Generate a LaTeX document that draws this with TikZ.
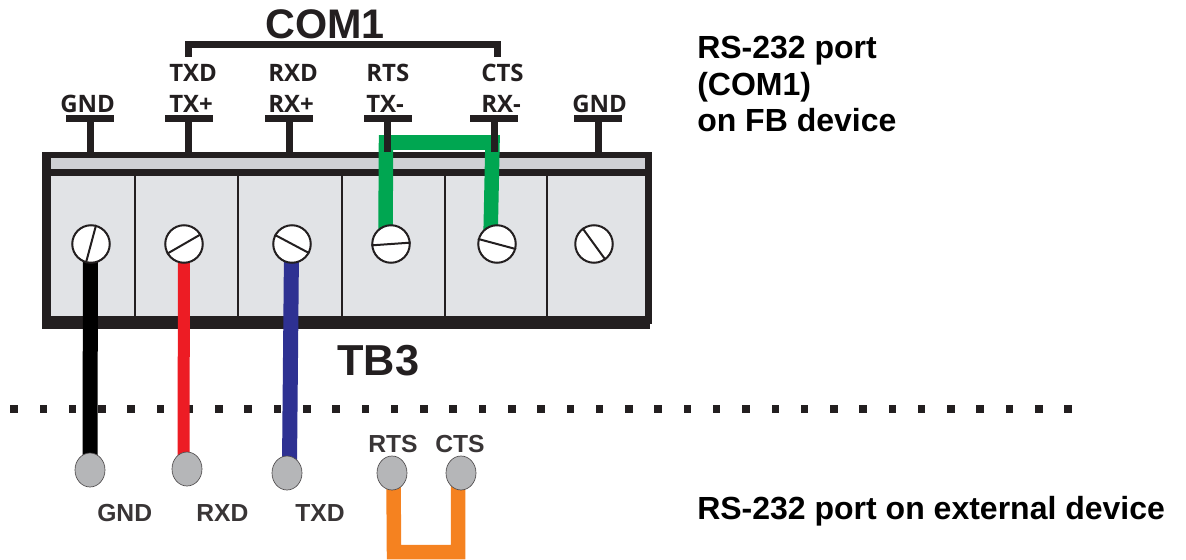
\documentclass[tikz,border=0pt]{standalone}
\usepackage{fontspec}
\setmainfont{Liberation Sans}
\newfontfamily\lblfont{Open Sans}
\usetikzlibrary{shapes.geometric}
\pgfdeclarelayer{bg}
\pgfdeclarelayer{wires}
\pgfsetlayers{bg,wires,main}
\definecolor{ink}{HTML}{231F20}
\definecolor{cellfill}{HTML}{E1E3E6}
\definecolor{stripfill}{HTML}{CFD0D4}
\definecolor{padfill}{HTML}{B5B6B8}
\definecolor{wred}{HTML}{ED1C24}
\definecolor{wblue}{HTML}{2E3192}
\definecolor{wgreen}{HTML}{00A651}
\definecolor{worange}{HTML}{F58220}
\def\px{0.75pt}
\tikzset{
  screw/.style={circle,draw=ink,fill=white,line width=1.5pt,inner sep=0pt,minimum size=37.5*\px},
  slot/.style={draw=ink,line width=1.5pt},
  pad/.style={ellipse,draw=ink!80,fill=padfill,line width=0.5pt,inner sep=0pt,minimum width=30*\px,minimum height=34*\px},
  tbar/.style={fill=ink,inner sep=0pt,minimum width=48*\px,minimum height=7*\px},
  stem/.style={draw=ink,line width=7*\px},
  wire/.style={line width=15*\px},
  big/.style={inner sep=0pt,anchor=base west,font=\fontsize{31}{31}\selectfont\bfseries,text=ink},
  term/.style={inner sep=0pt,anchor=base west,font=\fontsize{18}{18}\selectfont\lblfont\bfseries,text=ink},
  small/.style={inner sep=0pt,anchor=base west,font=\fontsize{18.5}{18.5}\selectfont\bfseries,text=ink!90},
  note/.style={inner sep=0pt,anchor=base west,align=left,font=\fontsize{24}{27.4}\selectfont\bfseries,text=black},
  dot/.style={fill=ink,inner sep=0pt,minimum size=7.5*\px},
}
\begin{document}
\begin{tikzpicture}[x=0.75pt,y=-0.75pt]
\useasboundingbox (0,0) rectangle (1186,560);
% terminal block
\begin{pgfonlayer}{bg}
  \fill[ink] (42,152) rectangle (652,329);
  \fill[stripfill] (51,158) rectangle (645,169);
  \fill[cellfill] (51,176) rectangle (645,316);
  \fill[white] (650,329) rectangle (652.5,324);
  \foreach \x in {135,238,342,445,547} \fill[ink] (\x-1,176) rectangle (\x+1,316);
  \foreach \i in {0,...,36} \node[dot] at (14+\i*29.28,409) {};
\end{pgfonlayer}
\coordinate (boxtop) at (0,152);
% pin bars and stems
\node[tbar] (t1) at (90,118.5) {};
\node[tbar] (t2) at (188.5,118.5) {};
\node[tbar] (t3) at (289,118.5) {};
\node[tbar] (t4) at (387.5,118.5) {};
\node[tbar] (t5) at (494,118.5) {};
\node[tbar] (t6) at (598,118.5) {};
\foreach \n in {t1,t2,t3,t4,t5,t6} \draw[stem] (\n.south) -- (\n |- boxtop);
% COM1 bracket
\coordinate (brl) at (188,57);
\coordinate (brr) at (497,57);
\coordinate (brt) at (0,44.5);
\draw[ink,line width=7*\px,miter limit=10] (brl) -- (brl |- brt) -- (brr |- brt) -- (brr);
% screws
\node[screw] (s1) at (91,244) {};
\node[screw] (s2) at (184,244) {};
\node[screw] (s3) at (292,244) {};
\node[screw] (s4) at (391,244) {};
\node[screw] (s5) at (497,244) {};
\node[screw] (s6) at (594,244) {};
\draw[slot] (s1.75) -- (s1.255);
\draw[slot] (s2.30) -- (s2.210);
\draw[slot] (s3.152) -- (s3.332);
\draw[slot] (s4.4) -- (s4.184);
\draw[slot] (s5.165) -- (s5.345);
\draw[slot] (s6.126) -- (s6.306);
% pads
\node[pad] (e1) at (90,470) {};
\node[pad] (e2) at (187,469) {};
\node[pad] (e3) at (287,473) {};
\node[pad] (e4) at (392,473) {};
\node[pad] (e5) at (461,473) {};
% wire joints
\coordinate (w1a) at (90.5,240);
\coordinate (w1b) at (90,462);
\coordinate (w2a) at (184,250);
\coordinate (w2b) at (183.5,462);
\coordinate (w3a) at (291.5,250);
\coordinate (w3b) at (289.5,465);
\coordinate (g4) at (385.5,238);
\coordinate (g4t) at (386,142.5);
\coordinate (g5t) at (492.5,142.5);
\coordinate (g5) at (490.5,238);
\coordinate (o4) at (393.5,478);
\coordinate (o4b) at (394,552);
\coordinate (o5b) at (458,552);
\coordinate (o5) at (458,478);
\begin{pgfonlayer}{wires}
  \draw[wire,black] (w1a) -- (w1b);
  \draw[wire,wred,line width=12*\px] (w2a) -- (w2b);
  \draw[wire,wblue] (w3a) -- (w3b);
  \draw[wire,wgreen,line width=14.5*\px] (g4) -- (g4t) -- (g5t) -- (g5);
  \draw[wire,worange,line width=14.5*\px] (o4) -- (o4b) -- (o5b) -- (o5);
\end{pgfonlayer}
% labels
\node[big] (com) at (265,38.5) {COM1};
\node[big,font=\fontsize{32.5}{32.5}\selectfont\bfseries] (tb) at (337,375) {TB3};
\node[term] at (169,82) {TXD};
\node[term] at (268,82) {RXD};
\node[term] at (366,82) {RTS};
\node[term] at (481,82) {CTS};
\node[term] at (60,113) {GND};
\node[term] at (169,113) {TX+};
\node[term] at (268,113) {RX+};
\node[term] at (366,113) {TX-};
\node[term] at (481,113) {RX-};
\node[term] at (572,113) {GND};
\node[small] at (97,521) {GND};
\node[small] at (196,521) {RXD};
\node[small] at (295,521) {TXD};
\node[small] at (368,452) {RTS};
\node[small] at (435,452) {CTS};
\node[note] at (697,132) {RS-232 port\\(COM1)\\on FB device};
\node[note] at (697,519) {RS-232 port on external device};
\end{tikzpicture}
\end{document}
